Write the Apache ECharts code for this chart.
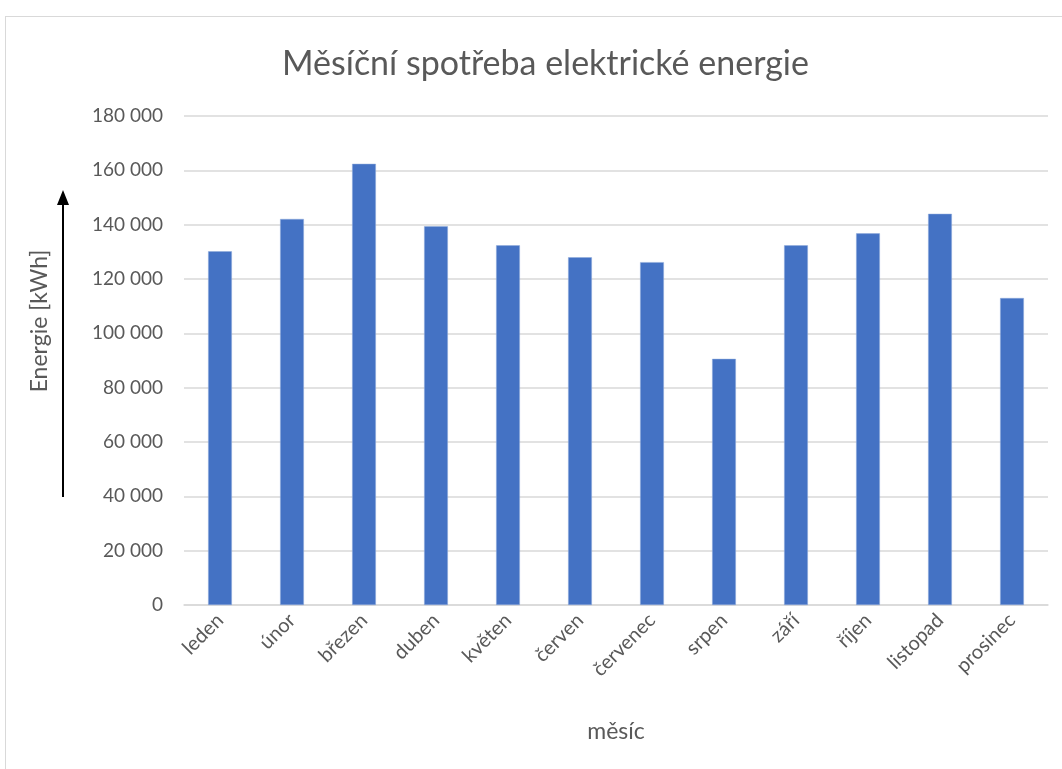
<!DOCTYPE html>
<html>
<head>
<meta charset="utf-8">
<script src="https://cdn.jsdelivr.net/npm/echarts@6/dist/echarts.min.js"></script>
<style>
  html, body { margin: 0; padding: 0; background: #fff; }
  #frame { position: absolute; left: 5px; top: 16px; width: 1080px; height: 780px; border: 1px solid #d9d9d9; }
  #chart { position: absolute; left: 0; top: 0; width: 1062px; height: 769px; }
</style>
</head>
<body>
<div id="frame"></div>
<div id="chart"></div>
<script>
// months and monthly consumption in kWh
const months = ['leden', 'únor', 'březen', 'duben', 'květen', 'červen',
  'červenec', 'srpen', 'září', 'říjen', 'listopad', 'prosinec'];
const energy = [130200, 142100, 162400, 139400, 132400, 128000,
  126200, 90600, 132400, 136800, 144000, 113000];
const yTicks = [0, 20000, 40000, 60000, 80000, 100000, 120000, 140000, 160000, 180000];

const textColor = '#595959';
const font = 'Lato, "Open Sans", sans-serif';

const chart = echarts.init(document.getElementById('chart'));

chart.setOption({
  animation: false,
  title: {
    text: 'Měsíční spotřeba elektrické energie',
    left: 277,
    top: 42,
    textStyle: { color: textColor, fontFamily: font, fontWeight: 'normal', fontSize: 34 }
  },
  grid: { left: 184, right: 14, top: 116, bottom: 164 },
  xAxis: {
    type: 'category',
    data: months,
    name: 'měsíc',
    nameLocation: 'middle',
    nameGap: 115,
    nameTextStyle: { color: textColor, fontFamily: font, fontSize: 23 },
    axisTick: { show: false },
    axisLine: { lineStyle: { color: '#d9d9d9', width: 1.5 } },
    axisLabel: { rotate: 45, color: textColor, fontFamily: font, fontSize: 20, margin: 12, interval: 0 }
  },
  yAxis: {
    type: 'value',
    min: yTicks[0],
    max: yTicks[yTicks.length - 1],
    interval: yTicks[1] - yTicks[0],
    axisLine: { show: false },
    axisTick: { show: false },
    splitLine: { lineStyle: { color: '#d9d9d9', width: 1.5 } },
    axisLabel: {
      color: textColor, fontFamily: font, fontSize: 19, margin: 21,
      formatter: v => String(v).replace(/\B(?=(\d{3})+(?!\d))/g, ' ')
    }
  },
  series: [{
    type: 'bar',
    data: energy,
    barWidth: '33%',
    itemStyle: { color: '#4472c4', borderColor: '#8eaadb', borderWidth: 0.5 }
  }],
  graphic: [
    // y axis title sits above the plot middle, next to the arrow
    {
      type: 'text', x: 40, y: 321, rotation: Math.PI / 2,
      style: { text: 'Energie [kWh]', fill: textColor, font: '23px ' + font, align: 'center', verticalAlign: 'middle' }
    },
    { type: 'line', shape: { x1: 63, y1: 497, x2: 63, y2: 200 }, style: { stroke: '#000', lineWidth: 2 } },
    { type: 'polygon', shape: { points: [[63, 190], [57, 205], [69, 205]] }, style: { fill: '#000' } }
  ]
});
</script>
</body>
</html>
